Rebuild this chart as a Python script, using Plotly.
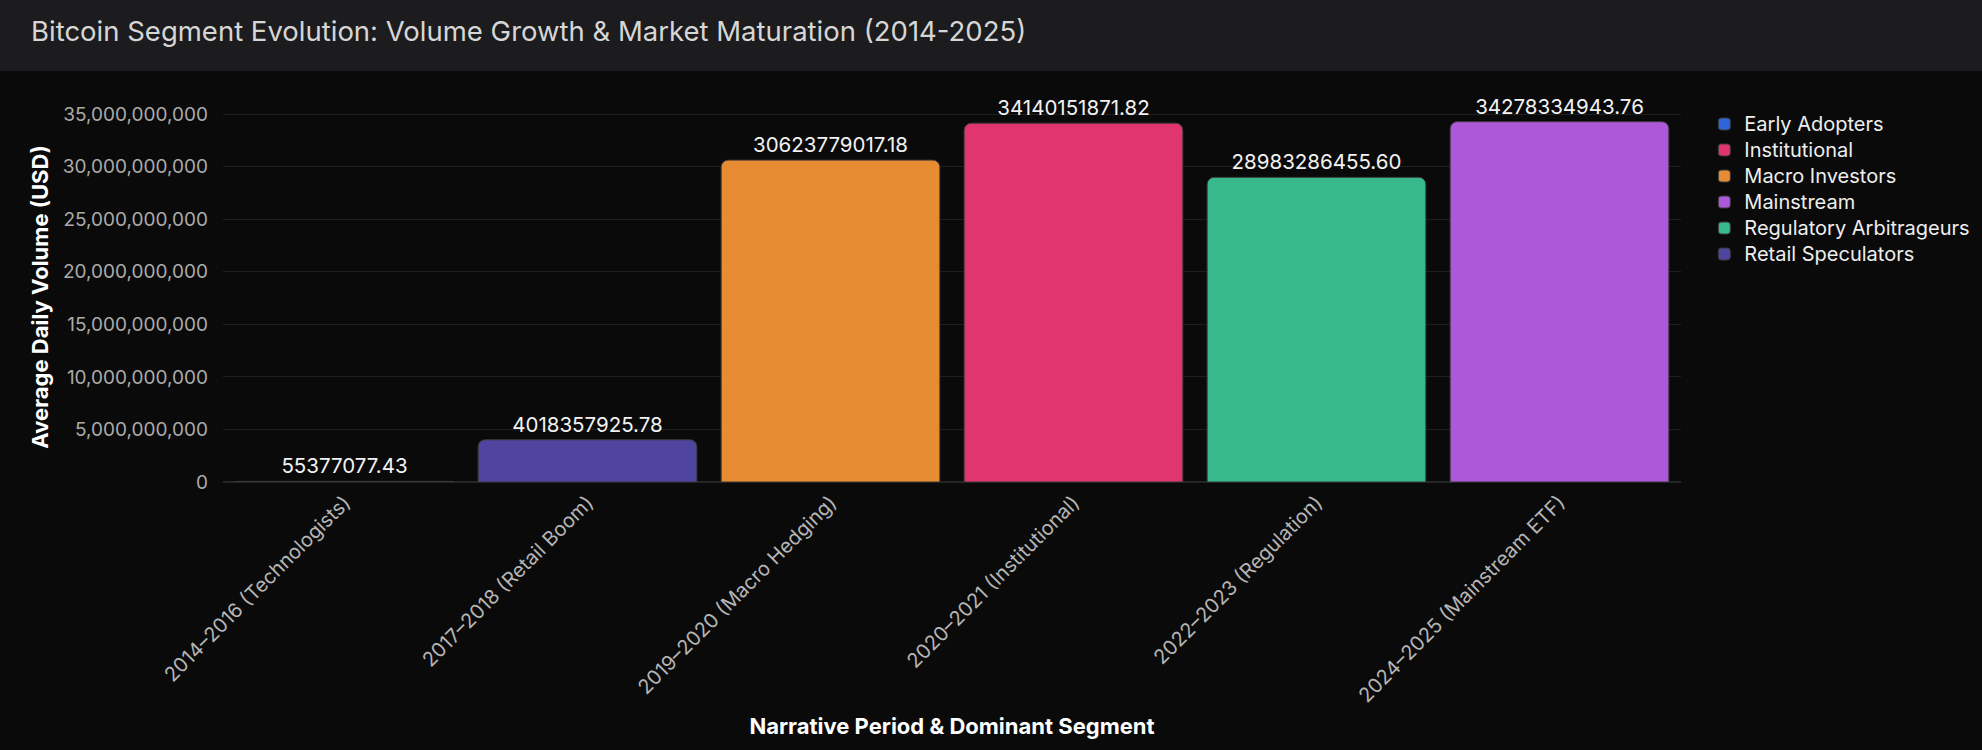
import plotly.graph_objects as go

periods = [
    "2014–2016 (Technologists)",
    "2017–2018 (Retail Boom)",
    "2019–2020 (Macro Hedging)",
    "2020–2021 (Institutional)",
    "2022–2023 (Regulation)",
    "2024–2025 (Mainstream ETF)",
]
segments = [
    "Early Adopters",
    "Retail Speculators",
    "Macro Investors",
    "Institutional",
    "Regulatory Arbitrageurs",
    "Mainstream",
]
volumes = [
    55377077.43,
    4018357925.78,
    30623779017.18,
    34140151871.82,
    28983286455.60,
    34278334943.76,
]
segment_colors = {
    "Early Adopters": "#2e66da",
    "Institutional": "#e1356f",
    "Macro Investors": "#e88c34",
    "Mainstream": "#ad57d9",
    "Regulatory Arbitrageurs": "#37b98b",
    "Retail Speculators": "#4f45a1",
}

FONT = "Inter, Noto Sans, sans-serif"

fig = go.Figure()
for seg in sorted(segments):
    i = segments.index(seg)
    fig.add_trace(go.Bar(
        x=[periods[i]], y=[volumes[i]],
        name="<span style='font-size:20px'>" + seg + "</span>",
        marker=dict(color=segment_colors[seg], line=dict(color="#3a3a3a", width=1)),
        texttemplate="%{y:.2f}", textposition="outside",
        textfont=dict(color="#f2f2f2", size=20.5, family=FONT),
        cliponaxis=False,
    ))

W, H = 1982, 750
ml, mr, mt, mb = 223, 301, 112, 268
pw = W - ml - mr
ph = H - mt - mb

fig.update_layout(
    width=W, height=H,
    barmode="relative", bargap=0.1, barcornerradius=7,
    paper_bgcolor="#0a0a0a", plot_bgcolor="#0a0a0a",
    font=dict(family=FONT, color="#e0e0e0", size=20),
    margin=dict(l=ml, r=mr, t=mt, b=mb, autoexpand=False),
    title=dict(
        text="Bitcoin Segment Evolution: Volume Growth & Market Maturation (2014-2025)",
        x=31 / W, xanchor="left", y=1 - 31 / H, yanchor="middle",
        font=dict(size=27.5, color="#d6d6d6", family=FONT),
    ),
    legend=dict(
        x=1.016, xanchor="left", y=1.0 + 6 / ph, yanchor="top",
        font=dict(size=17.7, color="#eeeeee", family=FONT),
        bgcolor="rgba(0,0,0,0)", tracegroupgap=0,
    ),
    shapes=[dict(
        type="rect", xref="paper", yref="paper", layer="below",
        x0=-ml / pw, x1=(W - ml) / pw,
        y0=1 + (mt - 71) / ph, y1=1 + mt / ph + 0.05,
        fillcolor="#1c1c1e", line=dict(width=0),
    )],
)
fig.update_xaxes(
    categoryorder="array", categoryarray=periods,
    tickangle=-45, tickfont=dict(size=20, color="#b5b5b5", family=FONT),
    title=dict(text="<b>Narrative Period & Dominant Segment</b>",
               font=dict(size=22, color="#ffffff", family=FONT), standoff=12),
    showgrid=False, showline=True, linecolor="#242424", linewidth=1,
)
fig.update_yaxes(
    range=[0, 35.2e9], tickformat=",d", dtick=5e9,
    tickfont=dict(size=19, color="#aaaaaa", family=FONT),
    ticklabelstandoff=14,
    title=dict(text="<b>Average Daily Volume (USD)</b>",
               font=dict(size=22, color="#ffffff", family=FONT), standoff=8),
    gridcolor="#1f1f1f", gridwidth=1, zeroline=True, zerolinecolor="#262626",
)
fig.write_html(
    "out.html",
    config={"displayModeBar": False},
    post_script="document.body.style.margin='0';document.body.style.overflow='hidden';document.body.style.background='#0a0a0a';",
)
